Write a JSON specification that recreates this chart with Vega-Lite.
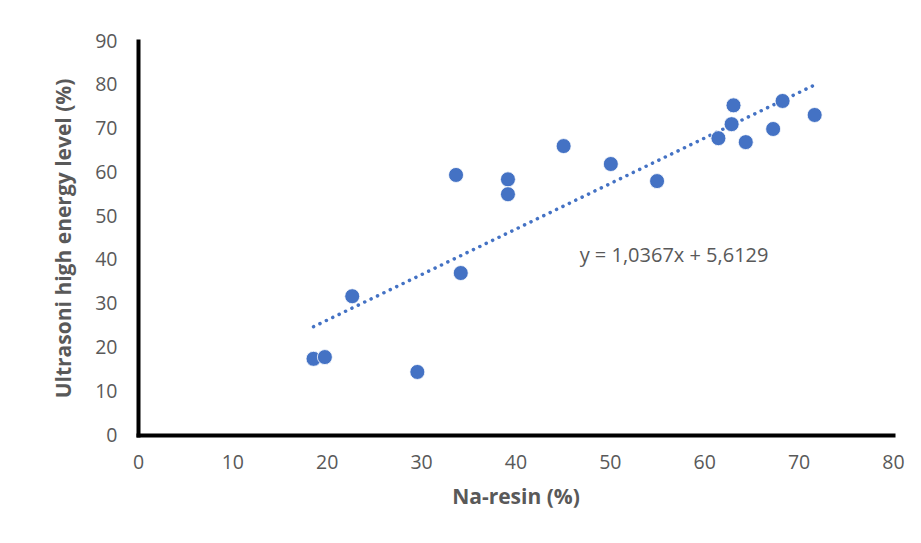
{
  "$schema": "https://vega.github.io/schema/vega-lite/v6.json",
  "width": 755,
  "height": 394,
  "autosize": "none",
  "padding": {"left": 138, "top": 41, "right": 28, "bottom": 108},
  "background": "white",
  "config": {
    "view": {"stroke": null},
    "font": "Open Sans"
  },
  "data": {
    "values": [
      {"na": 18.6, "us": 17.4},
      {"na": 19.8, "us": 17.8},
      {"na": 22.7, "us": 31.7},
      {"na": 29.6, "us": 14.4},
      {"na": 33.7, "us": 59.4},
      {"na": 34.2, "us": 37.0},
      {"na": 39.2, "us": 58.4},
      {"na": 39.2, "us": 55.0},
      {"na": 45.1, "us": 66.0},
      {"na": 50.1, "us": 61.9},
      {"na": 55.0, "us": 58.0},
      {"na": 61.5, "us": 67.8},
      {"na": 62.9, "us": 71.0},
      {"na": 63.1, "us": 75.3},
      {"na": 64.4, "us": 66.9},
      {"na": 67.3, "us": 69.9},
      {"na": 68.3, "us": 76.3},
      {"na": 71.7, "us": 73.1}
    ]
  },
  "layer": [
    {
      "transform": [{"regression": "us", "on": "na", "method": "linear"}],
      "mark": {"type": "line", "color": "#4472C4", "strokeWidth": 3.5, "strokeDash": [0.1, 7], "strokeCap": "round"},
      "encoding": {
        "x": {"field": "na", "type": "quantitative"},
        "y": {"field": "us", "type": "quantitative"}
      }
    },
    {
      "mark": {"type": "point", "filled": true, "shape": "circle", "size": 225, "color": "#4472C4", "opacity": 1, "stroke": "white", "strokeWidth": 0.8},
      "encoding": {
        "x": {
          "field": "na", "type": "quantitative",
          "scale": {"domain": [0, 80], "nice": false, "zero": true},
          "axis": {
            "title": "Na-resin (%)",
            "values": [0, 10, 20, 30, 40, 50, 60, 70, 80],
            "grid": false, "ticks": false,
            "domainColor": "black", "domainWidth": 4, "domainCap": "square",
            "labelFont": "Open Sans", "labelFontSize": 19.5, "labelColor": "#595959", "labelPadding": 18,
            "labelFlush": false,
            "titleFont": "Open Sans", "titleFontSize": 21, "titleFontWeight": "bold", "titleColor": "#595959", "titlePadding": 15
          }
        },
        "y": {
          "field": "us", "type": "quantitative",
          "scale": {"domain": [0, 90], "nice": false},
          "axis": {
            "title": "Ultrasoni high energy level (%)",
            "values": [0, 10, 20, 30, 40, 50, 60, 70, 80, 90],
            "grid": false, "ticks": false,
            "domainColor": "black", "domainWidth": 4, "domainCap": "square",
            "labelFont": "Open Sans", "labelFontSize": 19.5, "labelColor": "#595959", "labelPadding": 21,
            "labelFlush": false,
            "titleFont": "Open Sans", "titleFontSize": 21, "titleFontWeight": "bold", "titleColor": "#595959", "titlePadding": 20
          }
        }
      }
    },
    {
      "data": {"values": [{"label": "y = 1,0367x + 5,6129"}]},
      "mark": {"type": "text", "font": "Open Sans", "fontSize": 20, "color": "#595959", "align": "center", "baseline": "middle"},
      "encoding": {
        "x": {"datum": 56.8},
        "y": {"datum": 40.9},
        "text": {"field": "label"}
      }
    }
  ]
}
